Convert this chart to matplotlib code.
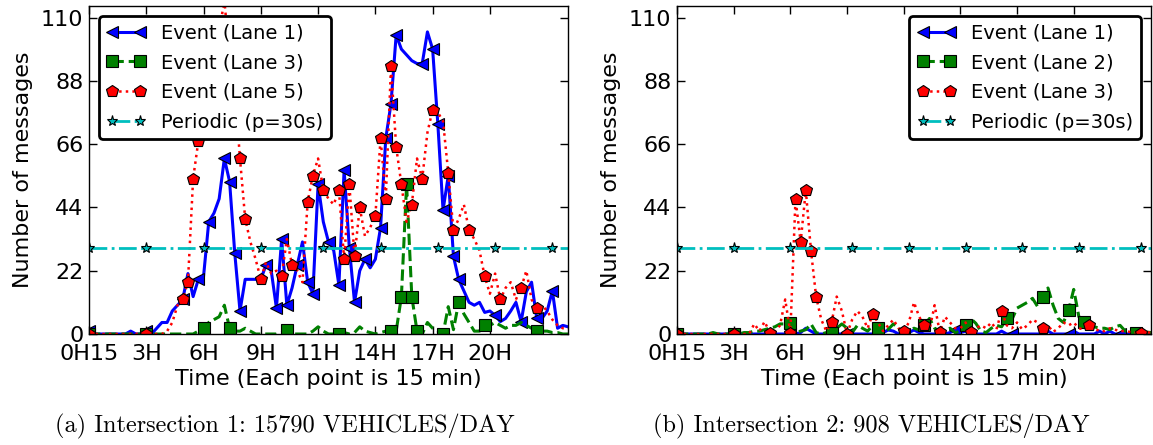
import numpy as np
import matplotlib
matplotlib.use("Agg")
import matplotlib.pyplot as plt

# ---------------- data ----------------
tick_labels = ['0H15', '3H', '6H', '9H', '11H', '14H', '17H', '20H']
tick_step = 11
periodic_value = 30

# Intersection 1
i1_lane1 = [1,0,0,0,0,0,0,0,1,0,0,1,0,2,4,4,8,10,12,21,13,19,20,39,42,47,61,53,28,8,19,
            19,19,19,24,22,9,33,10,16,24,32,18,14,52,39,32,29,17,57,30,11,22,26,23,26,37,68,80,104,99,
            97,95,94,94,105,99,73,43,55,27,19,15,11,10,11,7.5,8,6.5,4.3,5.4,8,11,4.3,14.7,18,5.4,5.4,8,15,2,3,2.5]
i1_lane3 = [0,0,0,0,0,0,0,0,0,0,0,0,0,0,0,0,0,0,0,0,0,1,2,4,5,6,10,2,1,1,2,
            1,0,0,0,0,0,0.5,1.5,0,0,0,0,1,2.5,1,0,0,0,0.5,0,0.5,2.5,1,0.5,0,0.5,1,1,1,13,
            52,13,1,0,4,2,1,0,9.5,1.5,11,7,4,1,1,3,3,4,3,2,3,3,4,3,2,1,1,1,0.5,0.5,0,0]
i1_lane5 = [0,0,0,0,0,0,0,0,0,0,0.5,0,0,0,0,1,4,10,12,18,54,67,81,92,98,105,116,96,85,61,40,
            32,26,19,25,21,22,20,33,24,22,18,46,55,61,50,47,45,50,26,52,27,44,34,37,41,68,47,93,65,52,
            39,45,61,54,70,78,77,74,56,36,40,45,36,33,29,20,14,21,12,16,18,12,16,22,12,9,10,8,5,3,2,2]

# Intersection 2
i2_lane1 = [0,0,0,0,0,0,0,0,0,0,0,0,0,0,0,0,0,0,0,0,0,0,0,0,0.5,2,1,0,0,0,0,
            0,0,0,0,0,0,0,0,0,0.5,1.4,1,0,0,0.5,1.4,0.5,0,0,0,0,0,0.5,1.4,0.5,1,0,0,0,0,
            0,0,1,0,0,0,0,0,0,0,0,1,0,0,0,0,1,0,0,0,0,1,0,1,0,0,0,0,0,0,0,0]
i2_lane2 = [0,0,0,0,0,0,0,0.5,0,0,0,0,0,0.5,0.5,1,1,1.5,2,2.5,3.5,3.5,3.7,0.5,1,1.5,3.5,0.5,0,0.5,0.5,
            2,3.5,2,0.5,3,2,1,3,2,0.5,1.6,3.5,2,0.5,1,2,1.4,3,5.4,2,1,1.5,2,0.5,1,3,5.4,3.7,1,0.5,
            2,3,2.5,5.4,5,9,10,11,12.4,9.5,13,16,10,5.4,4,8.3,15.5,6,4,3.7,2.5,2,2,1.5,2.5,3,1,0.5,0.5,0.5,0.7,0.5]
i2_lane3 = [0,0,0,0,0,0,0,0,0,0,0,0,0,0,0,3.5,1,4.3,0.5,1,3,12,0.5,47,32,50,29,13,5,1,4,
            13,8,0,5,8,6,2,7,4,1,3,5,2,1,4,11,6,3,1.4,10,0.7,6,4,2,2,4,0.7,2,3,2,
            4,1.6,8,3,2,4,1.6,3,5,4,2,3,0.7,2,4,3,4,2,1.6,3,2,1,1,2,1.5,1,1,0.7,0.5,0.5,0.5,0.5]

panels = [
    dict(series=[("Event (Lane 1)", i1_lane1), ("Event (Lane 3)", i1_lane3), ("Event (Lane 5)", i1_lane5)],
         legend_loc="upper left", caption="(a) Intersection 1: 15790 VEHICLES/DAY", cap_x=285),
    dict(series=[("Event (Lane 1)", i2_lane1), ("Event (Lane 2)", i2_lane2), ("Event (Lane 3)", i2_lane3)],
         legend_loc="upper right", caption="(b) Intersection 2: 908 VEHICLES/DAY", cap_x=871),
]

styles = [
    dict(color='b', linestyle='-', linewidth=2.2, marker='<', markersize=9, markeredgecolor='k', markeredgewidth=0.8),
    dict(color='g', linestyle='--', linewidth=2.2, marker='s', markersize=8, markeredgecolor='k', markeredgewidth=0.8),
    dict(color='r', linestyle=':', linewidth=1.8, marker='p', markersize=9, markeredgecolor='k', markeredgewidth=0.8),
]
periodic_style = dict(color='c', linestyle='-.', linewidth=2.0, marker='*', markersize=8,
                      markeredgecolor='k', markeredgewidth=0.8)

W, H = 1153, 445
fig = plt.figure(figsize=(W / 100, H / 100), dpi=100)
plt.rcParams['font.family'] = ['DejaVu Sans']

axes_px = [(89, 479), (677, 474)]
ax_bottom, ax_top = 334, 6

for (left, width), panel in zip(axes_px, panels):
    ax = fig.add_axes([left / W, (H - ax_bottom) / H, width / W, (ax_bottom - ax_top) / H])
    n = len(panel["series"][0][1])
    x = np.arange(n)
    for (label, vals), st in zip(panel["series"], styles):
        ax.plot(x, vals, label=label, markevery=0.1, **st)
    ax.plot(x, np.full(n, periodic_value), label="Periodic (p=30s)", markevery=0.1, **periodic_style)
    ax.set_xlim(0, n - 1)
    ax.set_ylim(0, 114)
    ax.set_yticks([0, 22, 44, 66, 88, 110])
    ax.set_xticks(np.arange(len(tick_labels)) * tick_step)
    ax.set_xticklabels(tick_labels)
    ax.tick_params(direction='in', top=True, right=True, length=6, width=1, labelsize=16)
    ax.tick_params(axis='x', pad=7)
    ax.tick_params(axis='y', pad=4)
    ax.set_xlabel("Time (Each point is 15 min)", fontsize=16, labelpad=4)
    ax.set_ylabel("Number of messages", fontsize=16, labelpad=6)
    for sp in ax.spines.values():
        sp.set_linewidth(1.0)
    leg = ax.legend(loc=panel["legend_loc"], numpoints=2, fontsize=14, fancybox=True,
                    framealpha=1.0, handlelength=2.0, borderaxespad=0.5, labelspacing=0.55)
    leg.get_frame().set_edgecolor('k')
    leg.get_frame().set_linewidth(2.0)
    fig.text(panel["cap_x"] / W, 1 - 426 / H, panel["caption"], ha='center', va='center',
             fontsize=17.5, family='cmr10')

fig.savefig("out.png", dpi=100)
